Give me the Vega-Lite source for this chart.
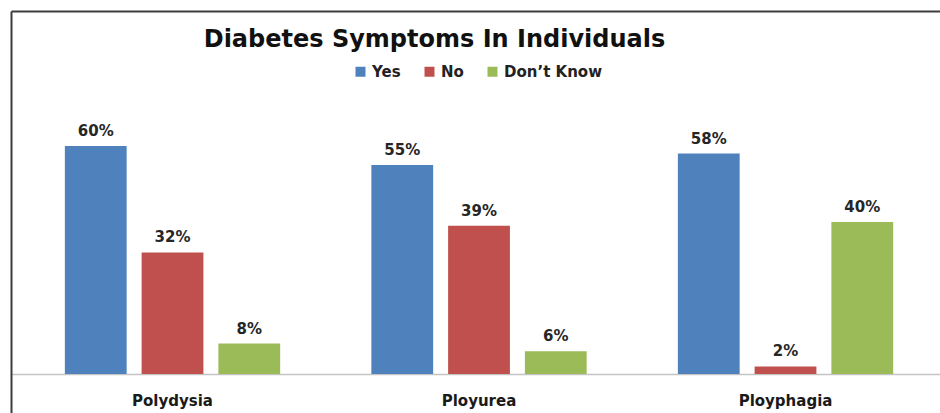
{
  "$schema": "https://vega.github.io/schema/vega-lite/v6.json",
  "width": 929,
  "height": 402,
  "autosize": "none",
  "padding": {"left": 11, "top": 11, "right": 0, "bottom": 0},
  "background": "white",
  "config": {
    "font": "DejaVu Sans",
    "view": {"stroke": null, "fill": "white"}
  },
  "title": {
    "text": "Diabetes Symptoms In Individuals",
    "anchor": "middle",
    "dx": -41,
    "offset": -41,
    "fontSize": 24,
    "fontWeight": "bold",
    "color": "#111111",
    "font": "DejaVu Sans"
  },
  "data": {
    "values": [
      {"symptom": "Polydysia", "answer": "Yes", "share": 0.60},
      {"symptom": "Polydysia", "answer": "No", "share": 0.32},
      {"symptom": "Polydysia", "answer": "Don’t Know", "share": 0.08},
      {"symptom": "Ployurea", "answer": "Yes", "share": 0.55},
      {"symptom": "Ployurea", "answer": "No", "share": 0.39},
      {"symptom": "Ployurea", "answer": "Don’t Know", "share": 0.06},
      {"symptom": "Ployphagia", "answer": "Yes", "share": 0.58},
      {"symptom": "Ployphagia", "answer": "No", "share": 0.02},
      {"symptom": "Ployphagia", "answer": "Don’t Know", "share": 0.40}
    ]
  },
  "encoding": {
    "xOffset": {
      "field": "answer",
      "type": "nominal",
      "sort": ["Yes", "No", "Don’t Know"],
      "scale": {"paddingInner": 0.195, "paddingOuter": 0.594}
    },
    "y": {
      "field": "share",
      "type": "quantitative",
      "scale": {"domain": [-0.1026, 0.9553], "nice": false, "zero": false},
      "axis": {
        "orient": "left",
        "title": null,
        "labels": false,
        "ticks": false,
        "grid": false,
        "domainColor": "#3c3c3c",
        "domainWidth": 2
      }
    }
  },
  "layer": [
    {
      "mark": {"type": "bar"},
      "encoding": {
        "x": {
          "field": "symptom",
          "type": "nominal",
          "sort": ["Polydysia", "Ployurea", "Ployphagia"],
          "scale": {"paddingInner": 0, "paddingOuter": 0.0155, "align": 0.87},
          "axis": {
            "title": null,
            "orient": "bottom",
            "offset": -39,
            "labelAngle": 0,
            "ticks": false,
            "domainColor": "#c4c4c4",
            "domainWidth": 1.5,
            "labelPadding": 19,
            "labelFontSize": 15,
            "labelFontWeight": "bold",
            "labelColor": "#1a1a1a",
            "labelFont": "DejaVu Sans"
          }
        },
        "y2": {"datum": 0},
        "color": {
          "field": "answer",
          "type": "nominal",
          "sort": ["Yes", "No", "Don’t Know"],
          "scale": {
            "domain": ["Yes", "No", "Don’t Know"],
            "range": ["#4f81bd", "#c0504d", "#9bbb59"]
          },
          "legend": {
            "title": null,
            "orient": "none",
            "direction": "horizontal",
            "legendX": 342,
            "legendY": 53,
            "symbolType": "square",
            "symbolSize": 100,
            "symbolStrokeWidth": 0,
            "labelFontSize": 15,
            "labelFontWeight": "bold",
            "labelColor": "#222222",
            "labelFont": "DejaVu Sans",
            "columnPadding": 21,
            "labelOffset": 4
          }
        }
      }
    },
    {
      "mark": {
        "type": "text",
        "dy": -10,
        "baseline": "alphabetic",
        "fontSize": 15,
        "fontWeight": "bold",
        "color": "#262626",
        "font": "DejaVu Sans"
      },
      "encoding": {
        "x": {
          "field": "symptom",
          "type": "nominal",
          "sort": ["Polydysia", "Ployurea", "Ployphagia"],
          "axis": {
            "title": null,
            "orient": "top",
            "labels": false,
            "ticks": false,
            "domainColor": "#3c3c3c",
            "domainWidth": 2
          }
        },
        "text": {"field": "share", "type": "quantitative", "format": ".0%"}
      }
    }
  ]
}
